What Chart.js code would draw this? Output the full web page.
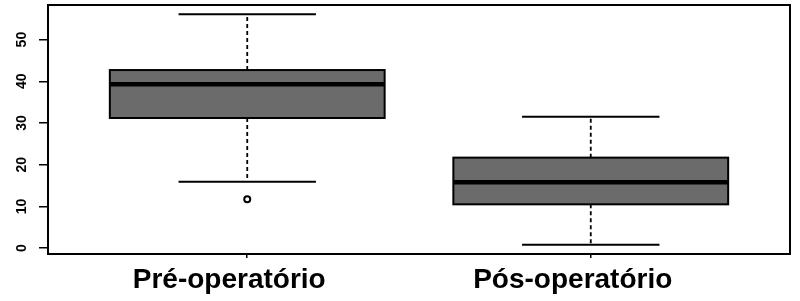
<!DOCTYPE html>
<html>
<head>
<meta charset="utf-8">
<script src="https://cdn.jsdelivr.net/npm/chart.js@4/dist/chart.umd.min.js"></script>
<style>
  html, body { margin: 0; padding: 0; background: #fff; }
  #wrap { width: 800px; height: 301px; position: relative; }
</style>
</head>
<body>
<div id="wrap"><canvas id="c"></canvas></div>
<script>
// ---- data ----
const categories   = ['Pré-operatório', 'Pós-operatório'];
const whiskerLow   = [15.9, 0.8];
const q1           = [31.2, 10.5];
const median       = [39.3, 15.8];
const q3           = [42.7, 21.7];
const whiskerHigh  = [56.1, 31.5];
const outliers     = [[11.7], []];
const yTickValues  = [0, 10, 20, 30, 40, 50];

const FONT = "'Liberation Sans', Arial, sans-serif";

const outlierPoints = [];
outliers.forEach((arr, i) => arr.forEach(v => outlierPoints.push({ x: i + 1, y: v })));

const boxPlugin = {
  id: 'boxplot',
  afterDatasetsDraw(chart) {
    const ctx = chart.ctx;
    const xs = chart.scales.x, ys = chart.scales.y;
    ctx.save();
    categories.forEach((c, i) => {
      const pos = i + 1;
      const cx = xs.getPixelForValue(pos);
      const bl = xs.getPixelForValue(pos - 0.4), br = xs.getPixelForValue(pos + 0.4);
      const wl = xs.getPixelForValue(pos - 0.2), wr = xs.getPixelForValue(pos + 0.2);
      const yLo = ys.getPixelForValue(whiskerLow[i]);
      const yQ1 = ys.getPixelForValue(q1[i]);
      const yMed = ys.getPixelForValue(median[i]);
      const yQ3 = ys.getPixelForValue(q3[i]);
      const yHi = ys.getPixelForValue(whiskerHigh[i]);
      // dashed whiskers
      ctx.strokeStyle = '#000';
      ctx.lineWidth = 1.8;
      ctx.setLineDash([4, 3]);
      ctx.beginPath();
      ctx.moveTo(cx, yQ3); ctx.lineTo(cx, yHi);
      ctx.moveTo(cx, yQ1); ctx.lineTo(cx, yLo);
      ctx.stroke();
      ctx.setLineDash([]);
      // caps
      ctx.lineWidth = 2;
      ctx.beginPath();
      ctx.moveTo(wl, yHi); ctx.lineTo(wr, yHi);
      ctx.moveTo(wl, yLo); ctx.lineTo(wr, yLo);
      ctx.stroke();
      // box
      ctx.fillStyle = '#6b6b6b';
      ctx.fillRect(bl, yQ3, br - bl, yQ1 - yQ3);
      ctx.lineWidth = 2;
      ctx.strokeRect(bl, yQ3, br - bl, yQ1 - yQ3);
      // median
      ctx.lineWidth = 4.5;
      ctx.beginPath();
      ctx.moveTo(bl, yMed); ctx.lineTo(br, yMed);
      ctx.stroke();
    });
    ctx.restore();
  },
  afterDraw(chart) {
    const a = chart.chartArea, ctx = chart.ctx;
    ctx.save();
    ctx.strokeStyle = '#000';
    ctx.lineWidth = 2;
    ctx.strokeRect(a.left, a.top, a.right - a.left, a.bottom - a.top);
    ctx.restore();
  }
};

new Chart(document.getElementById('c'), {
  type: 'scatter',
  data: {
    datasets: [{
      data: outlierPoints,
      pointRadius: 3,
      pointHoverRadius: 3,
      borderWidth: 2,
      borderColor: '#000',
      backgroundColor: '#fff'
    }]
  },
  options: {
    responsive: true,
    maintainAspectRatio: false,
    animation: false,
    layout: { padding: { top: 3, right: 10, left: 0, bottom: 0 } },
    plugins: { legend: { display: false }, tooltip: { enabled: false } },
    scales: {
      x: {
        type: 'linear',
        min: 0.42,
        max: 2.58,
        afterBuildTicks(axis) { axis.ticks = categories.map((c, i) => ({ value: i + 1 })); },
        afterFit(axis) { axis.height = 47; axis.paddingLeft = 0; axis.paddingRight = 0; },
        border: { display: false },
        grid: { drawOnChartArea: false, drawTicks: true, tickLength: 4, color: '#000', lineWidth: 1.5 },
        ticks: {
          callback: (v) => categories[Math.round(v) - 1],
          font: { family: FONT, size: 28, weight: 'bold' },
          color: '#000',
          padding: 5,
          labelOffset: -18,
          maxRotation: 0,
          minRotation: 0,
          autoSkip: false
        }
      },
      y: {
        type: 'linear',
        min: -1.41,
        max: 58.3,
        afterBuildTicks(axis) { axis.ticks = yTickValues.map(v => ({ value: v })); },
        afterFit(axis) { axis.width = 48; axis.paddingTop = 0; axis.paddingBottom = 0; },
        border: { display: false },
        grid: { drawOnChartArea: false, drawTicks: true, tickLength: 9, color: '#000', lineWidth: 1.5 },
        ticks: {
          font: { family: FONT, size: 14, weight: 'bold' },
          color: '#000',
          minRotation: 90,
          maxRotation: 90,
          crossAlign: 'center',
          padding: 9
        }
      }
    }
  },
  plugins: [boxPlugin]
});
</script>
</body>
</html>
